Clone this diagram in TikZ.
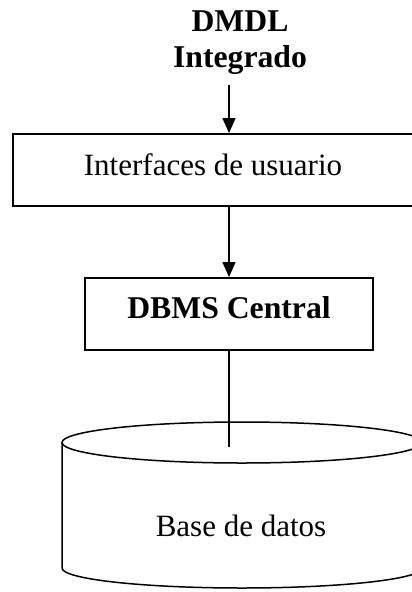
\documentclass[tikz,border=0pt]{standalone}
\usepackage{fontspec}
\setmainfont{Liberation Serif}
\usetikzlibrary{arrows.meta}
\begin{document}
\begin{tikzpicture}[x=1pt,y=-1pt,
  boxstyle/.style={draw, line width=1.8pt, inner sep=0pt, font=\fontsize{31}{36}\selectfont},
  arr/.style={line width=1.1pt, -{Triangle[length=15pt,width=13pt]}},
  conn/.style={line width=1.1pt},
  cyl/.style={line width=1.5pt},
  lbl/.style={inner sep=0pt, font=\fontsize{31}{36}\selectfont}]
\useasboundingbox (0,0) rectangle (412,592);
\clip (0,0) rectangle (412,592);
% title
\node[lbl, anchor=north, align=center, font=\fontsize{31.7}{36}\selectfont\bfseries] (title) at (240,11) {DMDL\\Integrado};
\coordinate (a1) at (229,85);
% boxes
\node[boxstyle, minimum width=400pt, minimum height=72pt, text height=22pt, text depth=12pt] (ui) at (213,170) {Interfaces de usuario};
\node[boxstyle, minimum width=288pt, minimum height=72pt, text height=22pt, text depth=14pt, font=\fontsize{31.7}{36}\selectfont\bfseries] (dbms) at (229,314) {DBMS Central};
% cylinder
\draw[cyl] (62,442.5) -- (62,568) arc[start angle=180, end angle=360, x radius=180pt, y radius=20pt] -- (422,442.5);
\draw[cyl] (242,442.5) ellipse[x radius=180pt, y radius=20.5pt];
\node[lbl, anchor=base] (db) at (241,536) {Base de datos};
\coordinate (dbtop) at (229,447);
% connectors
\draw[arr] (a1) -- (a1 |- ui.north);
\draw[arr] (dbms.north |- ui.south) -- (dbms.north);
\draw[conn] (dbms.south) -- (dbtop);
\end{tikzpicture}
\end{document}
